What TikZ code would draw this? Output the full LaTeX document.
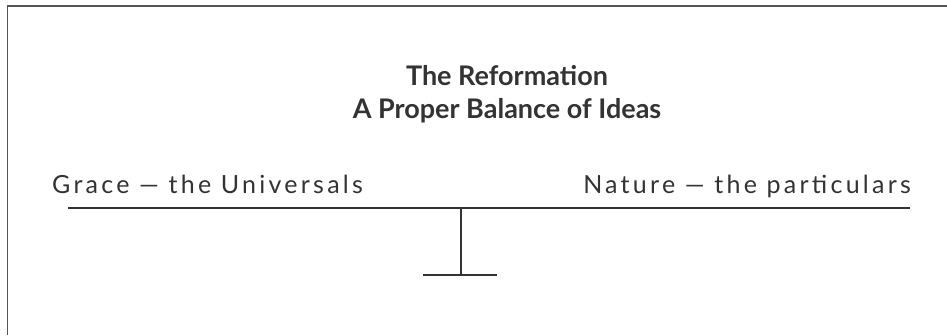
\documentclass[tikz,border=0pt]{standalone}
\usepackage{fontspec}
\setmainfont{Lato}
\newfontfamily\labelfont{Lato}[LetterSpace=13]
\definecolor{ink}{HTML}{333333}
\definecolor{frame}{HTML}{555555}
\begin{document}
\begin{tikzpicture}[x=1pt,y=-1pt,
  rule/.style={draw=ink,line width=1.1pt},
  border/.style={draw=frame,line width=1.4pt},
  label/.style={inner sep=0pt,text=ink,font=\labelfont\fontsize{25}{29}\selectfont},
  title/.style={inner sep=0pt,text=ink,font=\bfseries\fontsize{27}{31}\selectfont}]
\useasboundingbox (0,0) rectangle (947,335);
\draw[border] (7.5,335) -- (7.5,6) -- (947,6);
\node[title,anchor=base] (t1) at (507,85) {The Reformation};
\node[title,anchor=base] (t2) at (507,118) {A Proper Balance of Ideas};
\node[label,anchor=base west] (grace) at (52,193) {Grace — the Universals};
\node[label,anchor=base east] (nature) at (911,193) {Nature — the particulars};
\coordinate (bl) at (68,208);
\coordinate (br) at (910,208);
\coordinate (top) at (461,208);
\coordinate (foot) at (461,275);
\coordinate (fl) at (423,275);
\coordinate (fr) at (497,275);
\draw[rule] (bl) -- (br);
\draw[rule] (top) -- (foot);
\draw[rule] (fl) -- (fr);
\end{tikzpicture}
\end{document}
